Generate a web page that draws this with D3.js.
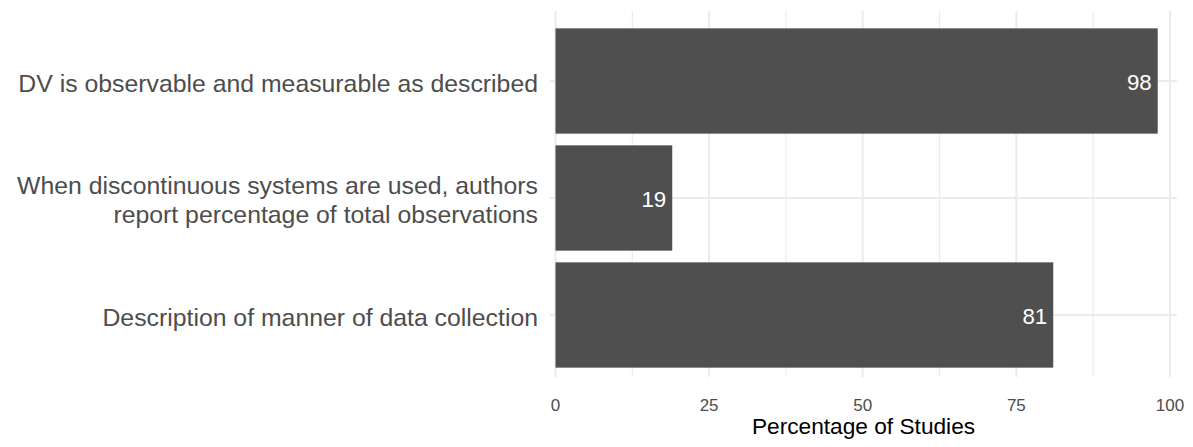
<!DOCTYPE html>
<html>
<head>
<meta charset="utf-8">
<script src="https://cdn.jsdelivr.net/npm/d3@7"></script>
<style>
  html, body { margin: 0; padding: 0; background: #ffffff; }
  svg { display: block; font-family: "Liberation Sans", Arial, Helvetica, sans-serif; }
</style>
</head>
<body>
<svg id="chart" width="1193" height="447"></svg>
<script>
// ---- data ----
const categories = [
  "DV is observable and measurable as described",
  "When discontinuous systems are used, authors\nreport percentage of total observations",
  "Description of manner of data collection"
];
const values = [98, 19, 81];
const majorTicks = [0, 25, 50, 75, 100];
const minorTicks = [12.5, 37.5, 62.5, 87.5];
const xTitle = "Percentage of Studies";

// ---- layout ----
const panel = { left: 550, right: 1177, top: 11, bottom: 377 };

const svg = d3.select("#chart");

const x = d3.scaleLinear().domain([0, 100]).range([555.5, 1170]);
const y = d3.scaleBand().domain(categories).range([22.5, 373.5])
  .paddingInner(0.1).paddingOuter(0.05);

const grid = svg.append("g");
// minor vertical grid
grid.selectAll("line.minor").data(minorTicks).join("line")
  .attr("class", "minor")
  .attr("x1", d => x(d)).attr("x2", d => x(d))
  .attr("y1", panel.top).attr("y2", panel.bottom)
  .attr("stroke", "#ebebeb").attr("stroke-width", 1.1);
// major vertical grid
grid.selectAll("line.majorx").data(majorTicks).join("line")
  .attr("class", "majorx")
  .attr("x1", d => x(d)).attr("x2", d => x(d))
  .attr("y1", panel.top).attr("y2", panel.bottom)
  .attr("stroke", "#ebebeb").attr("stroke-width", 2);
// major horizontal grid
grid.selectAll("line.majory").data(categories).join("line")
  .attr("class", "majory")
  .attr("x1", panel.left).attr("x2", panel.right)
  .attr("y1", d => y(d) + y.bandwidth() / 2).attr("y2", d => y(d) + y.bandwidth() / 2)
  .attr("stroke", "#ebebeb").attr("stroke-width", 2);

// bars
const data = categories.map((c, i) => ({ c, v: values[i] }));
svg.append("g").selectAll("rect").data(data).join("rect")
  .attr("x", x(0))
  .attr("y", d => y(d.c))
  .attr("width", d => x(d.v) - x(0))
  .attr("height", y.bandwidth())
  .attr("fill", "#4f4f4f");

// value labels
svg.append("g").selectAll("text").data(data).join("text")
  .attr("x", d => x(d.v) - 6)
  .attr("y", d => y(d.c) + y.bandwidth() / 2 + 9)
  .attr("text-anchor", "end")
  .attr("fill", "#ffffff")
  .attr("font-size", 22.3)
  .text(d => String(d.v));

// y axis labels
const yl = svg.append("g");
categories.forEach(c => {
  const lines = c.split("\n");
  const cy = y(c) + y.bandwidth() / 2;
  const lh = 28.5;
  const t = yl.append("text")
    .attr("text-anchor", "end")
    .attr("fill", "#4d4d4d")
    .attr("font-size", 24.8);
  lines.forEach((ln, i) => {
    t.append("tspan")
      .attr("x", 538)
      .attr("y", cy + 10.5 + (i - (lines.length - 1) / 2) * lh)
      .text(ln);
  });
});

// x tick labels
svg.append("g").selectAll("text").data(majorTicks).join("text")
  .attr("x", d => x(d))
  .attr("y", 410.5)
  .attr("text-anchor", "middle")
  .attr("fill", "#4d4d4d")
  .attr("font-size", 17)
  .text(d => String(d));

// x axis title
svg.append("text")
  .attr("x", (panel.left + panel.right) / 2)
  .attr("y", 434)
  .attr("text-anchor", "middle")
  .attr("fill", "#000000")
  .attr("font-size", 22.7)
  .text(xTitle);
</script>
</body>
</html>
